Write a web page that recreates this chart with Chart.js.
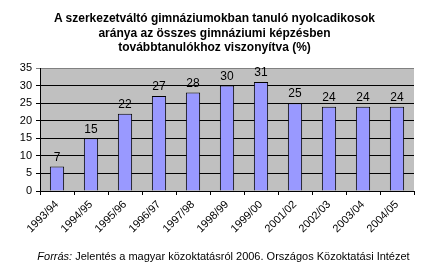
<!DOCTYPE html>
<html>
<head>
<meta charset="utf-8">
<script src="https://cdn.jsdelivr.net/npm/chart.js@4"></script>
<style>
body{margin:0;background:#fff;font-family:"Liberation Sans",Arial,sans-serif;}
#wrap{position:relative;width:429px;height:272px;}
#titre{position:absolute;left:0;top:11px;width:429px;text-align:center;font-weight:bold;font-size:12px;line-height:14.5px;color:#000;}
#source{position:absolute;left:0;top:250px;width:429px;text-align:center;font-size:11px;color:#000;padding-left:18px;box-sizing:border-box;}
canvas{position:absolute;left:0;top:0;}
</style>
</head>
<body>
<div id="wrap">
<canvas id="graphique" width="429" height="272"></canvas>
<div id="titre">A szerkezetváltó gimnáziumokban tanuló nyolcadikosok<br>aránya az összes gimnáziumi  képzésben<br>továbbtanulókhoz viszonyítva (%)</div>
<div id="source"><i>Forrás:</i> Jelentés a magyar közoktatásról 2006. Országos Közoktatási Intézet</div>
</div>
<script>
// donnees
const annees = ["1993/94","1994/95","1995/96","1996/97","1997/98","1998/99","1999/00","2001/02","2002/03","2003/04","2004/05"];
const pourcentages = [7,15,22,27,28,30,31,25,24,24,24];
const graduations = [0,5,10,15,20,25,30,35];

// fond gris de la zone de trace
const fondGris = {
	id:'fondGris',
	beforeDraw(chart){
		const a = chart.chartArea, ctx = chart.ctx;
		ctx.save();
		ctx.fillStyle = '#C0C0C0';
		ctx.fillRect(a.left, a.top, a.right-a.left, a.bottom-a.top);
		ctx.restore();
	}
};

// valeurs au dessus des barres
const etiquettes = {
	id:'etiquettes',
	afterDatasetsDraw(chart){
		const ctx = chart.ctx;
		const meta = chart.getDatasetMeta(0);
		ctx.save();
		ctx.font = '12px "Liberation Sans", Arial, sans-serif';
		ctx.fillStyle = '#000';
		ctx.textAlign = 'center';
		ctx.textBaseline = 'bottom';
		meta.data.forEach(function(bar, i){
			ctx.fillText(pourcentages[i], bar.x, bar.y - 3);
		});
		ctx.restore();
	}
};

new Chart(document.getElementById("graphique"), {
	type: 'bar',
	data: {
		labels: annees,
		datasets: [{
			data: pourcentages,
			backgroundColor: '#9999FF',
			borderColor: '#000',
			borderWidth: 1,
			barPercentage: 0.42,
			categoryPercentage: 1
		}]
	},
	options: {
		responsive: false,
		animation: false,
		layout: { padding: { top: 68, right: 15, bottom: 24, left: 0 } },
		plugins: { legend: { display: false }, tooltip: { enabled: false }, title: { display: false } },
		scales: {
			x: {
				afterFit: function(s){ s.height = 57; },
				grid: { offset: true, drawOnChartArea: false, color: '#000', tickLength: 4 },
				border: { color: '#000' },
				ticks: { minRotation: 45, maxRotation: 45, color: '#000', padding: 3,
					font: { family: '"Liberation Sans", Arial, sans-serif', size: 11 } }
			},
			y: {
				min: 0, max: 35,
				afterFit: function(s){ s.width = 40; },
				afterBuildTicks: function(s){ s.ticks = graduations.map(v => ({value: v})); },
				grid: { color: function(c){ return c.tick && c.tick.value === 35 ? '#808080' : '#000'; }, tickLength: 4 },
				border: { color: '#000' },
				ticks: { color: '#000', padding: 4,
					font: { family: '"Liberation Sans", Arial, sans-serif', size: 11 } }
			}
		}
	},
	plugins: [fondGris, etiquettes]
});
</script>
</body>
</html>
